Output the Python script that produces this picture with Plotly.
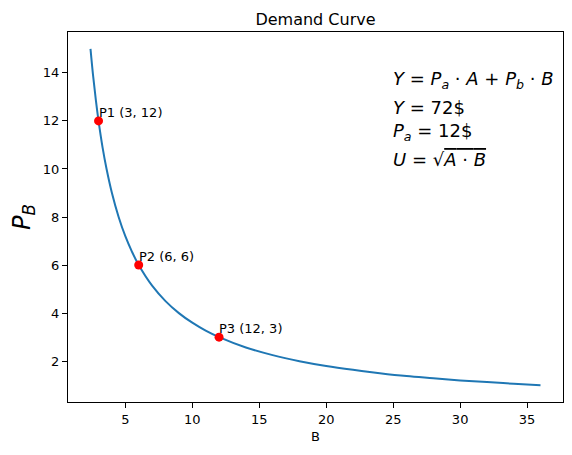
import plotly.graph_objects as go

# demand curve
b_vals = [2.4, 2.6, 2.8, 3, 3.3, 3.6, 4, 4.5, 5, 5.5, 6, 7, 8, 9, 10, 11, 12,
          14, 16, 18, 20, 22, 24, 26, 28, 30, 32, 34, 36]
pb_vals = [15, 13.85, 12.86, 12, 10.9, 10, 9, 8, 7.2, 6.55, 6, 5.14, 4.5, 4,
           3.6, 3.27, 3, 2.57, 2.25, 2, 1.8, 1.64, 1.5, 1.38, 1.29, 1.2, 1.13,
           1.06, 1]

# marked points
pt_b = [3, 6, 12]
pt_pb = [12, 6, 3]
pt_labels = ["P1 (3, 12)", "P2 (6, 6)", "P3 (12, 3)"]

# text box lines
formula_lines = [
    "<i>Y</i> = <i>P<sub>a</sub></i> · <i>A</i> + <i>P<sub>b</sub></i> · <i>B</i>",
    "<i>Y</i> = 72$",
    "<i>P<sub>a</sub></i> = 12$",
    "<i>U</i> = √<span style='text-decoration:overline'><i>A</i> · <i>B</i></span>",
]

font = "DejaVu Sans"

fig = go.Figure()
fig.add_trace(go.Scatter(x=b_vals, y=pb_vals, mode="lines", line_shape="spline",
                         line=dict(color="#1f77b4", width=2)))
fig.add_trace(go.Scatter(x=pt_b, y=pt_pb, mode="markers",
                         marker=dict(color="red", size=9)))

for bx, py, lab in zip(pt_b, pt_pb, pt_labels):
    fig.add_annotation(x=bx, y=py, text=lab, showarrow=False, xanchor="left",
                       yanchor="bottom", xshift=-2, yshift=-1,
                       font=dict(family=font, size=13, color="black"))

# stacked formula lines, last one sits on y=10
shifts = [75, 49, 23, -3]
for line, sh in zip(formula_lines, shifts):
    fig.add_annotation(x=25, y=10, text=line, showarrow=False, xanchor="left",
                       yanchor="bottom", align="left", yshift=sh, xshift=-2,
                       font=dict(family=font, size=18, color="black"))

axis_common = dict(showgrid=False, zeroline=False, showline=True, mirror=True,
                   linecolor="black", linewidth=1, ticks="outside", ticklen=5,
                   tickcolor="black", automargin=False,
                   tickfont=dict(family=font, size=13, color="black"))

fig.update_xaxes(range=[0.72, 37.68], tickvals=[5, 10, 15, 20, 25, 30, 35],
                 title=dict(text="B", font=dict(family=font, size=13, color="black"),
                            standoff=6), **axis_common)
fig.update_yaxes(range=[0.3, 15.7], tickvals=[2, 4, 6, 8, 10, 12, 14],
                 title=dict(text="<i>P<sub>B</sub></i>", font=dict(family=font, size=24, color="black"),
                            standoff=10), **axis_common)

# page body adds 8px margin, so the figure is a bit smaller
fig.update_layout(
    width=564, height=447,
    margin=dict(l=60, r=9, t=24, b=53, autoexpand=False),
    paper_bgcolor="white", plot_bgcolor="white",
    showlegend=False,
    title=dict(text="Demand Curve", x=0.5, xref="paper", y=1, yref="paper",
               yanchor="bottom", pad=dict(b=7), automargin=False,
               font=dict(family=font, size=16, color="black")),
)

fig.write_html("out.html")
